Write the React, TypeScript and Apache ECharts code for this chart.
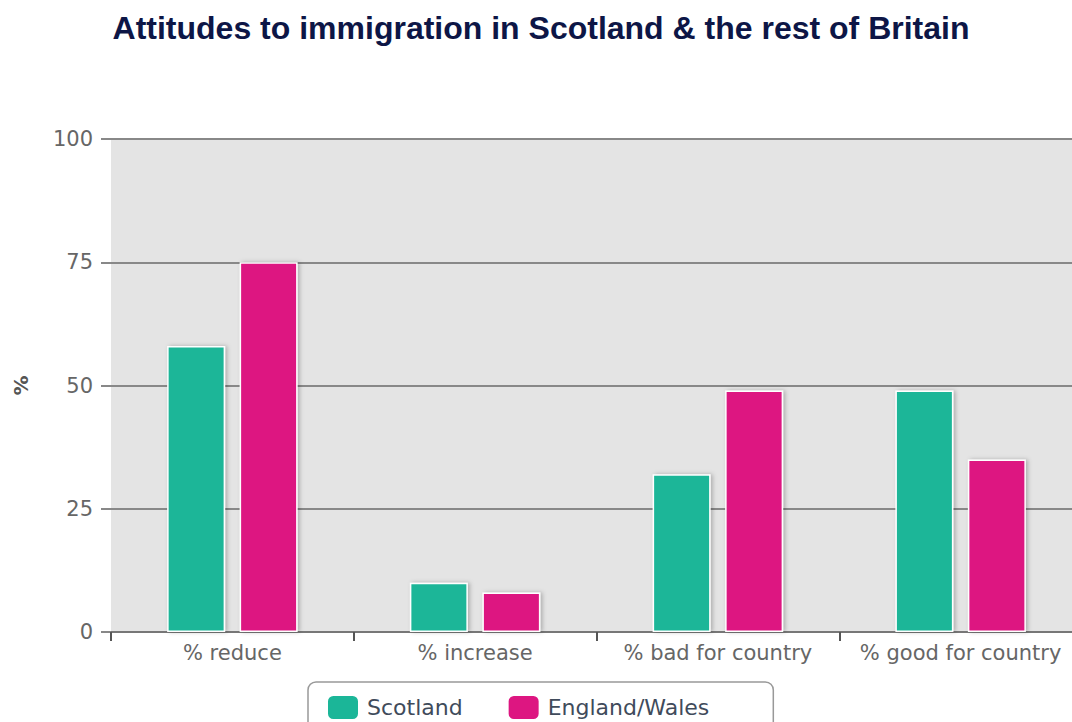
import React, { useEffect, useRef } from "react";
import * as echarts from "echarts";

const categories = ["% reduce", "% increase", "% bad for country", "% good for country"];
const scotland = [58, 10, 32, 49];
const englandWales = [75, 8, 49, 35];
const yTicks = { min: 0, max: 100, interval: 25 };

export default function App() {
  const ref = useRef<HTMLDivElement>(null);
  useEffect(() => {
    if (!ref.current) return;
    const chart = echarts.init(ref.current, undefined, { renderer: "svg" });
    const barStyle = (color: string) => ({
      color,
      borderColor: "#ffffff",
      borderWidth: 1.5,
      shadowColor: "rgba(0,0,0,0.25)",
      shadowBlur: 4,
      shadowOffsetX: 2,
      shadowOffsetY: 0,
    });
    chart.setOption({
      animation: false,
      backgroundColor: "#ffffff",
      title: {
        text: "Attitudes to immigration in Scotland & the rest of Britain",
        left: "center",
        top: 7,
        textStyle: {
          fontFamily: "Liberation Sans, Arial, sans-serif",
          fontWeight: "bold",
          fontSize: 32,
          color: "#0d1646",
        },
      },
      grid: {
        left: 111,
        right: -1,
        top: 139,
        bottom: 90,
        show: true,
        backgroundColor: "#e4e4e4",
        borderWidth: 0,
      },
      legend: {
        left: 308,
        top: 682,
        padding: [12, 64, 20, 18],
        itemGap: 44,
        itemWidth: 32,
        itemHeight: 25,
        icon: "roundRect",
        borderColor: "#999999",
        borderWidth: 1.5,
        borderRadius: 8,
        textStyle: {
          fontFamily: "DejaVu Sans",
          fontSize: 22,
          color: "#3f4b5b",
          padding: [0, 0, 0, 3],
        },
        data: ["Scotland", "England/Wales"],
      },
      xAxis: {
        type: "category",
        data: categories,
        axisLine: { lineStyle: { color: "#777777", width: 2 } },
        axisTick: { show: true, interval: 0, length: 9, lineStyle: { color: "#555555", width: 2 } },
        axisLabel: {
          interval: 0,
          margin: 10,
          fontFamily: "DejaVu Sans",
          fontSize: 21,
          color: "#666666",
        },
      },
      yAxis: {
        type: "value",
        min: yTicks.min,
        max: yTicks.max,
        interval: yTicks.interval,
        name: "%",
        nameLocation: "middle",
        nameGap: 80,
        nameTextStyle: {
          fontFamily: "DejaVu Sans",
          fontSize: 20,
          fontWeight: "bold",
          color: "#555555",
        },
        axisLine: { show: false },
        axisTick: { show: true, length: 10, lineStyle: { color: "#888888", width: 2 } },
        axisLabel: {
          margin: 18,
          fontFamily: "DejaVu Sans",
          fontSize: 21,
          color: "#666666",
        },
        splitLine: { lineStyle: { color: "#888888", width: 2 } },
      },
      series: [
        {
          name: "Scotland",
          type: "bar",
          data: scotland,
          barWidth: 58,
          barGap: "25%",
          itemStyle: barStyle("#1bb698"),
        },
        {
          name: "England/Wales",
          type: "bar",
          data: englandWales,
          barWidth: 58,
          barGap: "25%",
          itemStyle: barStyle("#dd1681"),
        },
      ],
    });
    return () => chart.dispose();
  }, []);
  return (
    <div
      style={{
        position: "fixed",
        left: 0,
        top: 0,
        width: 1072,
        height: 722,
        overflow: "hidden",
        background: "#fff",
      }}
    >
      <div ref={ref} style={{ width: 1082, height: 722 }} />
    </div>
  );
}
